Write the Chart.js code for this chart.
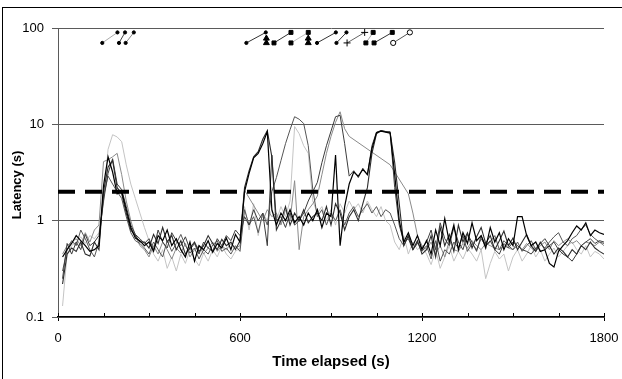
<!DOCTYPE html>
<html>
<head>
<meta charset="utf-8">
<script src="https://cdn.jsdelivr.net/npm/chart.js@4.4.1/dist/chart.umd.min.js"></script>
<style>
  html, body { margin: 0; padding: 0; background: #fff; }
  #wrap { position: relative; width: 622px; height: 379px; overflow: hidden; }
  #frame { position: absolute; left: 2px; top: 7px; width: 640px; height: 400px; border-left: 1px solid #000; border-top: 1px solid #000; pointer-events: none; }
</style>
</head>
<body>
<div id="wrap">
  <canvas id="latencyChart" width="622" height="379"></canvas>
  <div id="frame"></div>
</div>
<script>
// sample clock: one reading every 15 s
const sampleStep = 15;
const times = Array.from({ length: 120 }, (_, i) => sampleStep * (i + 1));

const xTicks = [0, 600, 1200, 1800];
const yTicks = [0.1, 1, 10, 100];
const threshold = 2;

// latency per client (s), one value per sample
const client1 = [
  0.42,0.5,0.58,0.7,0.62,0.55,0.48,0.5,0.55,
  2.3,4.6,3.2,1.9,2.0,1.3,0.85,0.66,0.62,
  0.55,0.6,0.48,0.7,0.62,0.8,0.55,0.65,0.5,0.42,0.6,0.38,0.55,0.5,0.62,0.47,0.58,0.52,0.66,0.5,0.72,0.6,
  2.0,3.1,4.5,5.0,6.3,8.4,1.3,0.9,1.2,1.0, 1.3,0.95,1.1,0.9,1.2,1.0,1.3,0.85,1.2,1.1,
  4.8,0.55,1.4,2.4,3.2,2.9,3.4,3.0,5.6,8.2, 8.5,8.3,8.1,3.0,1.0,0.6,0.75,0.55,0.7,0.5,
  0.62,0.45,0.8,0.55,1.05,0.6,0.9,0.5,0.75,0.58, 0.95,0.62,0.7,0.52,0.85,0.6,0.75,0.5,0.65,0.55,
  1.1,1.1,0.7,0.55,0.6,0.48,0.5,0.36,0.33,0.48, 0.55,0.62,0.75,0.88,0.8,0.95,0.7,0.8,0.75,0.72
];
const client2 = [
  0.22,0.45,0.52,0.48,0.6,0.45,0.43,0.6,0.5,
  2.0,3.6,4.2,2.2,1.9,1.2,0.8,0.7,0.6,
  0.6,0.52,0.72,0.58,0.85,0.6,0.7,0.5,0.62,0.45,0.52,0.6,0.48,0.55,0.7,0.58,0.5,0.64,0.55,0.6,0.5,0.62,
  2.2,3.3,4.6,5.2,7.0,8.6,4.6,0.8,1.0,1.4, 0.9,1.2,1.0,1.3,0.95,1.1,1.2,1.0,1.4,0.9,
  1.5,1.2,0.8,1.1,1.3,1.0,1.5,2.2,5.0,8.0, 8.6,8.4,8.2,4.0,1.5,0.55,0.7,0.5,0.62,0.45,
  0.5,0.7,0.42,0.85,0.55,0.72,0.48,0.9,0.6,0.75, 0.52,0.68,0.85,0.58,0.7,0.5,0.62,0.78,0.55,0.66,
  0.5,0.6,0.72,0.55,0.48,0.6,0.5,0.55,0.45,0.52, 0.48,0.42,0.5,0.45,0.55,0.5,0.6,0.52,0.48,0.45
];
const client3 = [
  0.3,0.5,0.62,0.55,0.8,0.65,0.5,0.42,0.6,
  1.8,2.9,2.4,2.0,1.7,1.1,0.75,0.62,0.58,
  0.52,0.45,0.6,0.5,0.42,0.62,0.48,0.58,0.72,0.55,0.46,0.52,0.4,0.5,0.45,0.56,0.62,0.48,0.52,0.45,0.55,0.48,
  1.3,0.9,1.1,0.75,1.2,0.9,2.0,2.8,4.2,6.3, 8.8,12.0,11.3,10.2,6.0,2.1,1.1,1.3,0.9,1.2,
  1.0,1.3,0.9,1.2,1.4,1.1,1.3,1.5,1.2,1.4, 1.1,1.3,1.2,0.9,0.65,0.55,0.7,0.5,0.6,0.48,
  0.55,0.4,0.62,0.38,0.5,0.45,0.6,0.52,0.7,0.48, 0.58,0.5,0.65,0.55,0.6,0.7,0.5,0.62,0.55,0.5,
  0.6,0.48,0.55,0.62,0.5,0.58,0.52,0.6,0.68,0.75, 0.6,0.55,0.65,0.7,0.82,0.9,0.72,0.65,0.6,0.58
];
const client4 = [
  0.25,0.58,0.45,0.6,0.5,0.72,0.55,0.6,0.7,
  1.6,3.1,4.4,2.4,2.1,1.4,0.9,0.72,0.65,
  0.58,0.65,0.5,0.8,0.6,0.52,0.75,0.62,0.55,0.68,0.5,0.58,0.45,0.6,0.52,0.48,0.65,0.55,0.7,0.62,0.8,0.7,
  1.1,0.9,1.3,1.0,1.2,0.55,4.8,1.0,1.1,0.85, 1.2,0.9,1.0,1.2,1.6,2.0,2.5,4.0,6.0,8.5,
  12.0,12.4,6.3,2.9,3.3,2.8,3.5,3.0,6.0,8.3, 8.6,8.4,8.4,2.2,0.9,0.6,0.65,0.5,0.58,0.52,
  0.6,0.8,0.5,0.95,0.65,0.55,0.85,0.6,0.5,0.72, 0.6,0.48,0.7,0.55,0.62,0.5,0.45,0.58,0.52,0.6,
  0.55,0.5,0.48,0.45,0.52,0.58,0.65,0.55,0.6,0.5, 0.45,0.42,0.38,0.45,0.55,0.6,0.65,0.58,0.62,0.6
];
const client5 = [
  0.45,0.55,0.6,0.65,0.55,0.75,0.6,0.8,0.9,
  4.1,4.3,4.6,5.0,3.0,1.6,1.0,0.7,0.55,
  0.5,0.42,0.55,0.45,0.6,0.5,0.4,0.52,0.46,0.58,0.42,0.5,0.55,0.45,0.52,0.6,0.48,0.55,0.5,0.58,0.52,0.55,
  2.07,null,null,null,1.0,1.3,1.1,1.2,0.9,1.3, 1.0,2.6,0.5,1.1,1.3,1.5,1.8,3.0,5.0,7.5,
  10.5,13.5,9.0,7.5,null,null,null,null,null,null, null,null,3.8,null,null,null,1.9,1.2,0.7,0.55,
  0.5,0.6,0.45,0.55,0.42,0.62,0.5,0.48,0.58,0.52, 0.62,0.55,0.5,0.58,0.55,0.52,0.5,0.55,0.52,0.5,
  0.55,0.5,0.58,0.52,0.48,0.55,0.6,0.5,0.62,0.55, 0.6,0.65,0.58,0.62,0.55,0.6,0.58,0.55,0.6,0.55
];
const client6 = [
  0.13,0.45,0.55,0.6,0.68,0.58,0.7,0.65,0.75,
  1.5,5.5,7.8,7.4,6.6,3.8,2.4,1.7,1.2,
  0.85,0.62,0.45,0.38,0.5,0.32,0.42,0.3,0.45,0.36,0.5,0.4,0.34,0.46,0.38,0.5,0.42,0.55,0.45,0.4,0.48,0.52,
  1.4,0.8,1.5,0.7,1.2,1.0,1.3,1.0,1.4,1.1, 1.6,9.5,8.0,6.0,5.0,1.6,1.2,1.4,1.0,1.3,
  0.9,1.5,1.2,1.6,1.3,1.5,1.2,1.6,1.3,1.1, 1.4,1.0,0.9,0.6,0.5,0.7,0.45,0.6,0.5,0.55,
  0.45,0.35,0.5,0.32,0.42,0.55,0.38,0.48,0.4,0.52, 0.45,0.38,0.5,0.25,0.36,0.48,0.4,0.45,0.3,0.42,
  0.5,0.38,0.45,0.55,0.42,0.5,0.38,0.45,0.52,0.42, 0.48,0.55,0.6,0.5,0.45,0.55,0.42,0.48,0.45,0.4
];

// fault events drawn at the top: start (low marker) -> end (high marker)
const eventStart  = [146, 201, 223, 621, 687, 712, 768, 825, 854, 918, 953, 1015, 1042, 1105];
const eventEnd    = [196, 221, 250, 685, 687, 768, 825, 825, 916, 951, 1011, 1039, 1102, 1160];
const eventTop    = [90, 90, 90, 90, 78, 90, 90, 78, 90, 90, 90, 90, 90, 90];
const eventMarker = ['dot','dot','dot','dot','triangle','square','square','triangle','dot','dot','plus','square','square','ring'];
const eventLow = 70;

const FONT = '"Liberation Sans", Arial, sans-serif';

const seriesStyle = [
  { data: client1, color: '#000000', width: 1.2 },
  { data: client2, color: '#2c2c2c', width: 1.1 },
  { data: client4, color: '#3c3c3c', width: 1 },
  { data: client3, color: '#555555', width: 1 },
  { data: client5, color: '#8a8a8a', width: 1 },
  { data: client6, color: '#c4c4c4', width: 1 }
];

const markerStyle = {
  dot:      { pointStyle: 'circle',   radius: 1.6, fill: '#000' },
  triangle: { pointStyle: 'triangle', radius: 3.4, fill: '#000' },
  square:   { pointStyle: 'rect',     radius: 2.8, fill: '#000' },
  plus:     { pointStyle: 'cross',    radius: 3.5, fill: '#000' },
  ring:     { pointStyle: 'circle',   radius: 2.6, fill: '#fff' }
};
const eventShade = ['#aaa', '#444', '#888', '#333', '#000', '#333', '#bbb', '#000', '#333', '#333', '#666', '#aaa', '#333', '#555'];

const datasets = [];

// threshold (dashed)
datasets.push({
  data: [{ x: xTicks[0], y: threshold }, { x: xTicks[xTicks.length - 1], y: threshold }],
  borderColor: '#000',
  borderWidth: 4,
  borderDash: [17, 10],
  pointRadius: 0
});

eventStart.forEach((s, i) => {
  const m = markerStyle[eventMarker[i]];
  datasets.push({
    data: [{ x: s, y: eventLow }, { x: eventEnd[i], y: eventTop[i] }],
    borderColor: eventShade[i],
    borderWidth: 1,
    pointStyle: m.pointStyle,
    pointRadius: m.radius,
    pointBackgroundColor: m.fill,
    pointBorderColor: '#000',
    pointBorderWidth: 1
  });
});

seriesStyle.forEach(s => {
  datasets.push({
    data: times.map((t, i) => ({ x: t, y: s.data[i] })),
    borderColor: s.color,
    borderWidth: s.width,
    pointRadius: 0,
    spanGaps: true,
    tension: 0
  });
});

// inward minor ticks on x axis + rotated y title
const axisBits = {
  id: 'axisBits',
  afterDraw(chart) {
    const { ctx, chartArea } = chart;
    const x = chart.scales.x;
    ctx.save();
    ctx.strokeStyle = '#000';
    ctx.lineWidth = 1;
    for (let t = 0; t <= 1800; t += 150) {
      const px = Math.round(x.getPixelForValue(t)) + 0.5;
      ctx.beginPath();
      ctx.moveTo(px, chartArea.bottom);
      ctx.lineTo(px, chartArea.bottom - 4);
      ctx.stroke();
    }
    ctx.translate(17, 185);
    ctx.rotate(-Math.PI / 2);
    ctx.font = 'bold 13px ' + FONT;
    ctx.fillStyle = '#000';
    ctx.textAlign = 'center';
    ctx.textBaseline = 'middle';
    ctx.fillText('Latency (s)', 0, 0);
    ctx.restore();
  }
};

new Chart(document.getElementById('latencyChart'), {
  type: 'line',
  data: { datasets },
  options: {
    responsive: false,
    animation: false,
    events: [],
    layout: { padding: { left: 0, right: 18, top: 28, bottom: 0 } },
    plugins: { legend: { display: false }, tooltip: { enabled: false } },
    scales: {
      x: {
        type: 'linear',
        min: 0,
        max: 1800,
        afterFit: s => { s.height = 62; s.paddingLeft = 0; s.paddingRight = 0; },
        afterBuildTicks: s => { s.ticks = xTicks.map(v => ({ value: v })); },
        ticks: { color: '#000', font: { family: FONT, size: 13 }, padding: 10, maxRotation: 0, autoSkip: false, callback: v => String(v) },
        grid: { display: true, drawOnChartArea: false, tickLength: 4, color: '#000' },
        border: { color: '#000', width: 1.3 },
        title: { display: true, text: 'Time elapsed (s)', color: '#000', font: { family: FONT, size: 15, weight: 'bold' }, padding: { top: 0, bottom: 8 } }
      },
      y: {
        type: 'logarithmic',
        min: 0.1,
        max: 100,
        afterFit: s => { s.width = 58; },
        afterBuildTicks: s => { s.ticks = yTicks.map(v => ({ value: v })); },
        ticks: { color: '#000', font: { family: FONT, size: 13 }, padding: 8, callback: v => String(v) },
        grid: { color: '#5a5a5a', lineWidth: 1, tickLength: 6 },
        border: { color: '#5a5a5a', width: 1 }
      }
    }
  },
  plugins: [axisBits]
});
</script>
</body>
</html>
